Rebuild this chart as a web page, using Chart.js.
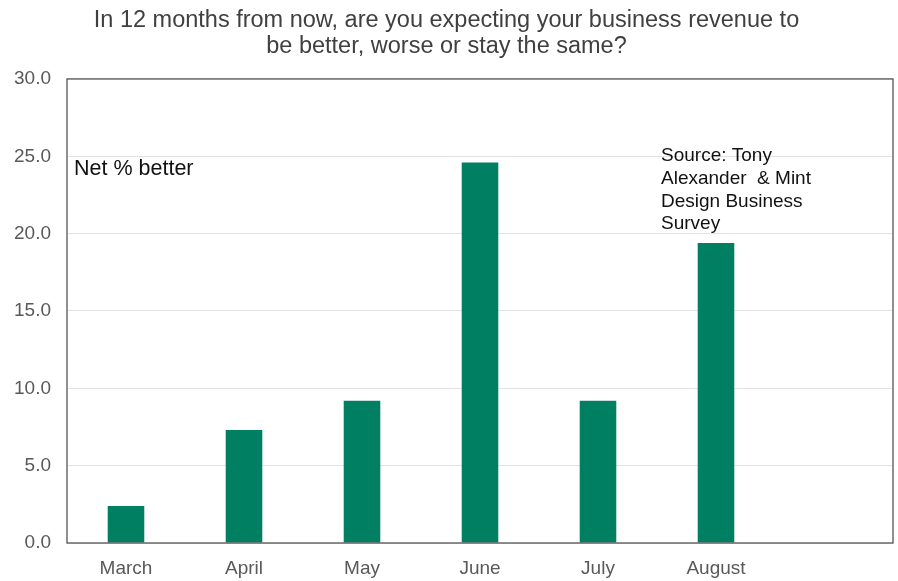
<!DOCTYPE html>
<html>
<head>
<meta charset="utf-8">
<script src="https://cdn.jsdelivr.net/npm/chart.js@4"></script>
<style>
  html, body { margin: 0; padding: 0; background: #fff; }
  #wrap { width: 898px; height: 581px; }
</style>
</head>
<body>
<div id="wrap"><canvas id="chart" width="898" height="581"></canvas></div>
<script>
// Survey months, last slot left empty on purpose
const months = ['March', 'April', 'May', 'June', 'July', 'August', ''];
const netBetter = [2.4, 7.3, 9.2, 24.6, 9.2, 19.4, null];
const yTicks = [0, 5, 10, 15, 20, 25, 30];

const titleLines = [
  'In 12 months from now, are you expecting your business revenue to',
  'be better, worse or stay the same?'
];
const sourceLines = ['Source: Tony', 'Alexander  & Mint', 'Design Business', 'Survey'];

const FONT = '"Liberation Sans", Arial, sans-serif';

// frame around the plot plus the two text notes
const plotNotes = {
  id: 'plotNotes',
  afterDatasetsDraw(chart) {
    const { ctx, chartArea: a } = chart;
    ctx.save();
    ctx.strokeStyle = '#555';
    ctx.lineWidth = 1.3;
    ctx.strokeRect(a.left, a.top, a.right - a.left, a.bottom - a.top);

    ctx.fillStyle = '#111';
    ctx.textBaseline = 'middle';
    ctx.font = '21.5px ' + FONT;
    ctx.fillText('Net % better', a.left + 7, a.top + 90);

    ctx.font = '19px ' + FONT;
    sourceLines.forEach((s, i) => {
      ctx.fillText(s, a.left + 594, a.top + 77 + i * 22.7);
    });
    ctx.restore();
  }
};

const data = {
  labels: months,
  datasets: [{
    label: 'Net % better',
    data: netBetter,
    backgroundColor: '#007f62',
    barPercentage: 0.62,
    categoryPercentage: 0.5
  }]
};

const config = {
  type: 'bar',
  data,
  options: {
    responsive: false,
    animation: false,
    layout: { padding: { left: 0, right: 5, top: 0, bottom: 0 } },
    plugins: {
      legend: { display: false },
      tooltip: { enabled: false },
      title: {
        display: true,
        text: titleLines,
        color: '#404040',
        font: { size: 23.5, family: FONT, weight: 'normal', lineHeight: 1.106 },
        padding: { top: 8, bottom: 19 }
      }
    },
    scales: {
      x: {
        grid: { display: false },
        border: { display: false },
        ticks: {
          color: '#595959',
          padding: 6,
          font: { size: 19, family: FONT }
        },
        afterFit(scale) { scale.height = 38; }
      },
      y: {
        min: 0,
        max: 30,
        afterBuildTicks(scale) { scale.ticks = yTicks.map(v => ({ value: v })); },
        grid: { color: '#e3e3e3', drawTicks: false },
        border: { display: false },
        ticks: {
          color: '#595959',
          padding: 16,
          font: { size: 19, family: FONT },
          callback: v => v.toFixed(1)
        },
        afterFit(scale) { scale.width = 67; }
      }
    }
  },
  plugins: [plotNotes]
};

const myChart = new Chart(document.getElementById('chart').getContext('2d'), config);
</script>
</body>
</html>
